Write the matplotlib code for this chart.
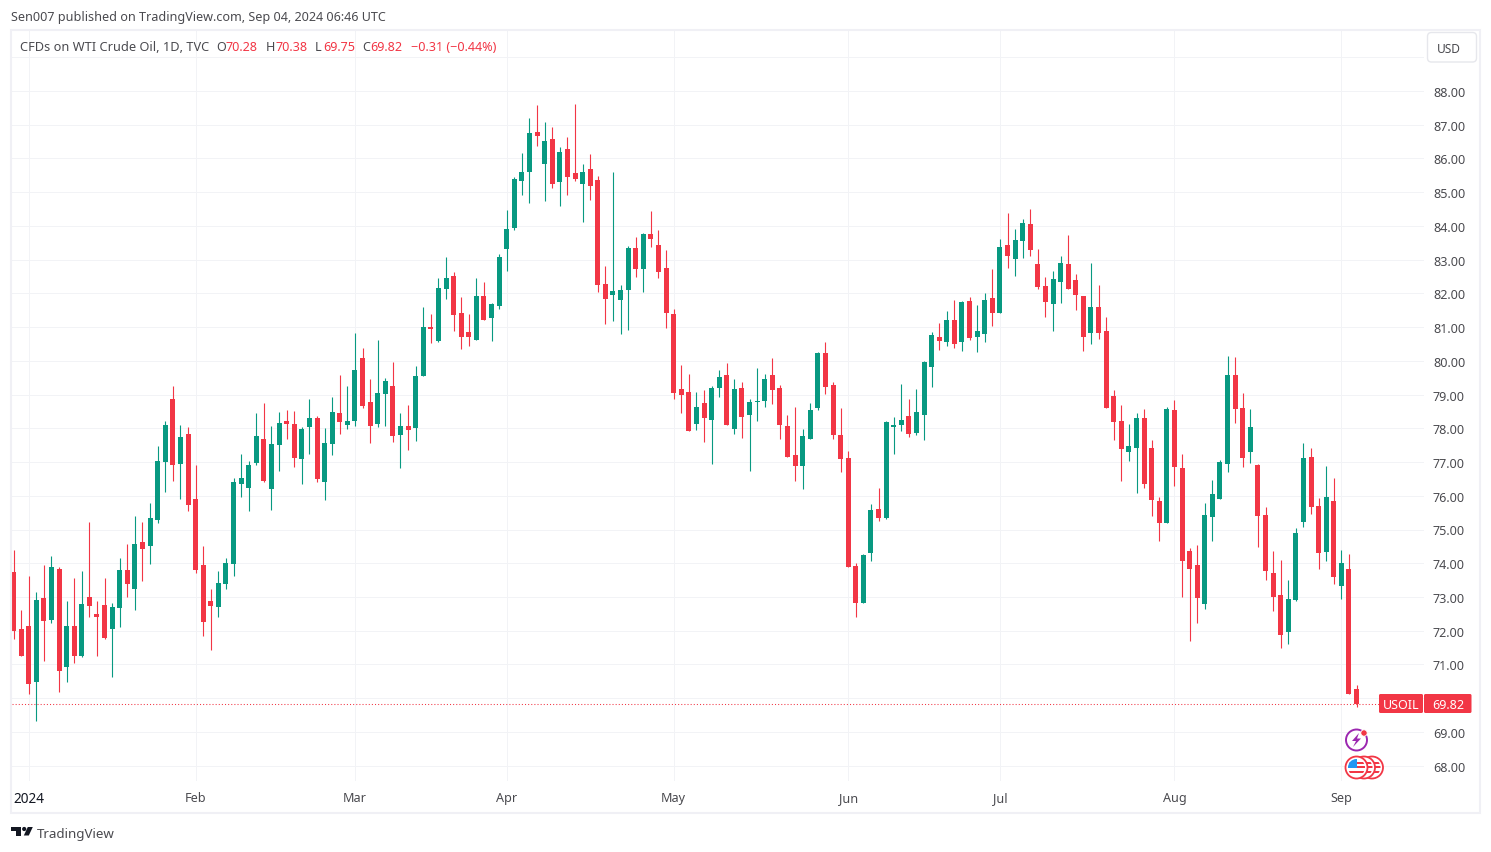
import matplotlib
matplotlib.use("Agg")
import matplotlib.pyplot as plt
from matplotlib.patches import Circle, FancyBboxPatch, Polygon, Rectangle
import numpy as np

plt.rcParams['font.family'] = ['Noto Sans', 'DejaVu Sans']

# daily candles, Jan 2024 to Sep 04 2024
opens = [73.75, 72.06, 72.15, 70.49, 72.98, 72.33, 73.84, 70.91, 72.15, 71.26, 73.01, 72.51, 72.75, 72.06, 72.66, 73.81, 73.25, 74.64, 74.50, 75.27,
         76.99, 78.88, 76.93, 77.82, 75.89, 73.96, 72.87, 72.69, 73.37, 73.99, 76.36, 76.24, 76.96, 77.67, 76.19, 77.49, 78.23, 78.14, 77.08, 78.03,
         78.29, 76.42, 77.52, 78.44, 78.11, 78.23, 80.07, 78.77, 78.14, 79.03, 79.24, 77.79, 78.06, 78.00, 79.54, 80.99, 80.60, 82.12, 82.50, 81.43,
         80.84, 80.63, 81.93, 81.28, 81.61, 83.30, 83.95, 85.34, 85.61, 86.79, 85.84, 86.56, 85.31, 86.29, 85.58, 85.25, 85.67, 85.37, 82.29, 81.96,
         81.81, 82.11, 83.33, 82.73, 83.77, 83.44, 82.76, 81.40, 79.15, 79.09, 78.14, 78.76, 78.26, 79.18, 79.57, 77.99, 79.18, 78.38, 78.79, 78.82,
         79.59, 79.18, 78.08, 77.22, 76.87, 77.67, 78.59, 80.22, 79.27, 77.79, 77.11, 73.93, 72.81, 74.29, 75.62, 75.33, 78.05, 78.11, 78.35, 77.87,
         78.38, 79.83, 80.72, 80.57, 81.22, 80.57, 81.76, 80.72, 80.78, 81.85, 81.43, 83.42, 83.03, 83.54, 84.04, 82.88, 82.23, 81.67, 82.35, 82.88,
         82.38, 81.91, 80.81, 81.58, 80.87, 78.97, 78.23, 77.31, 77.43, 78.29, 77.43, 75.83, 75.18, 78.53, 76.81, 74.35, 73.96, 72.78, 75.36, 75.89,
         76.93, 79.57, 78.59, 77.31, 76.90, 75.42, 73.70, 73.07, 71.95, 72.90, 75.21, 77.16, 75.71, 74.32, 75.83, 73.34, 73.82, 70.28]
highs = [74.38, 72.60, 73.61, 73.16, 73.96, 74.20, 73.90, 72.89, 73.55, 73.78, 75.21, 72.89, 73.55, 72.81, 74.17, 74.58, 75.41, 75.21, 75.80, 77.46,
         78.23, 79.24, 78.11, 78.05, 76.90, 74.50, 73.25, 73.78, 74.17, 76.54, 77.25, 77.04, 78.44, 78.74, 78.06, 78.47, 78.53, 78.50, 78.03, 78.88,
         78.35, 78.00, 78.94, 79.57, 79.24, 80.81, 80.37, 79.45, 80.63, 79.48, 79.95, 78.44, 78.68, 79.86, 81.58, 81.40, 82.44, 83.09, 82.62, 81.88,
         81.40, 82.44, 82.35, 81.72, 83.18, 84.48, 85.46, 86.17, 87.21, 87.59, 87.09, 86.94, 86.35, 86.62, 87.62, 85.82, 86.14, 85.49, 82.82, 85.61,
         82.26, 83.41, 83.68, 83.80, 84.45, 83.89, 83.27, 81.55, 79.89, 79.62, 79.09, 79.12, 79.24, 79.74, 79.92, 79.45, 79.36, 78.88, 79.80, 79.62,
         80.07, 79.27, 78.38, 78.62, 77.99, 78.76, 80.25, 80.57, 79.36, 78.59, 77.34, 74.02, 74.26, 75.77, 76.22, 78.23, 78.32, 79.30, 78.88, 79.15,
         79.98, 80.84, 81.13, 81.49, 81.79, 81.76, 81.88, 81.64, 82.02, 82.71, 83.62, 84.37, 83.92, 84.19, 84.51, 83.30, 82.47, 82.65, 83.12, 83.74,
         82.56, 81.91, 82.91, 82.26, 81.31, 79.12, 78.70, 78.14, 78.44, 78.56, 77.64, 75.95, 78.62, 78.85, 77.25, 74.44, 74.53, 75.80, 76.48, 77.05,
         80.13, 80.10, 79.06, 78.56, 76.93, 75.68, 74.35, 74.11, 73.49, 75.03, 77.55, 77.43, 75.92, 76.87, 76.54, 74.38, 74.26, 70.38]
lows = [71.74, 71.26, 70.11, 69.31, 71.09, 72.24, 70.17, 70.49, 71.03, 71.21, 72.42, 71.26, 71.74, 70.64, 72.12, 73.01, 72.60, 73.46, 73.99, 75.18,
        76.10, 76.45, 75.89, 75.56, 73.72, 71.83, 71.44, 72.42, 73.25, 73.61, 75.95, 75.56, 76.90, 76.42, 75.57, 76.72, 77.67, 76.84, 76.34, 77.25,
        76.40, 75.86, 77.20, 77.82, 77.97, 78.08, 78.59, 77.55, 78.03, 78.06, 77.58, 76.81, 77.37, 77.61, 79.54, 80.52, 80.57, 81.82, 80.87, 80.34,
        80.43, 80.63, 81.22, 80.60, 81.55, 82.67, 83.89, 84.90, 84.69, 86.38, 84.75, 85.13, 84.60, 84.90, 85.34, 84.10, 84.78, 82.05, 81.10, 81.19,
        80.78, 80.92, 82.47, 82.05, 83.38, 82.44, 80.98, 78.88, 78.46, 77.93, 77.96, 77.58, 76.93, 78.94, 78.11, 77.82, 77.70, 76.72, 78.23, 78.62,
        78.71, 77.67, 77.16, 76.45, 76.19, 77.67, 78.53, 79.03, 77.67, 76.69, 73.90, 72.42, 72.81, 74.08, 75.24, 75.30, 77.25, 77.93, 77.73, 77.79,
        77.64, 79.21, 80.33, 80.45, 80.39, 80.28, 80.63, 80.25, 80.57, 81.02, 81.43, 82.76, 82.50, 83.06, 83.12, 82.14, 81.31, 80.87, 81.70, 82.14,
        81.52, 80.28, 80.51, 80.66, 78.59, 77.64, 76.45, 77.02, 76.07, 76.22, 75.39, 74.65, 75.18, 76.28, 73.01, 71.71, 72.24, 72.63, 74.65, 75.89,
        76.69, 78.17, 76.84, 76.96, 74.47, 73.49, 72.57, 71.50, 71.62, 72.87, 75.06, 75.45, 73.84, 74.08, 73.37, 72.93, 70.11, 69.75]
closes = [71.98, 71.26, 70.41, 72.92, 72.30, 73.90, 70.82, 72.15, 71.24, 72.78, 72.72, 72.42, 71.77, 72.69, 73.81, 73.37, 74.58, 74.41, 75.33, 77.04,
          78.11, 76.90, 77.73, 75.74, 73.81, 72.27, 72.72, 73.40, 74.02, 76.42, 76.54, 76.90, 77.76, 76.45, 77.52, 78.17, 78.14, 77.11, 77.97, 78.29,
          76.51, 77.55, 78.47, 78.20, 78.23, 79.74, 78.65, 78.06, 79.06, 79.39, 77.76, 78.08, 77.94, 79.54, 80.99, 80.93, 82.15, 82.44, 81.35, 80.72,
          80.72, 81.93, 81.22, 81.67, 83.09, 83.92, 85.40, 85.61, 86.76, 86.65, 86.50, 85.25, 86.20, 85.46, 85.40, 85.61, 85.19, 82.26, 81.84, 82.08,
          82.11, 83.35, 82.73, 83.77, 83.62, 82.64, 81.43, 79.06, 79.00, 77.93, 78.64, 78.29, 79.18, 79.51, 78.11, 79.15, 78.32, 78.79, 78.82, 79.45,
          79.12, 78.11, 77.16, 76.87, 77.76, 78.53, 80.22, 79.21, 77.79, 77.08, 73.90, 72.81, 74.23, 75.59, 75.33, 78.20, 78.11, 78.26, 77.84, 78.47,
          79.95, 80.75, 80.60, 81.22, 80.51, 81.73, 80.69, 80.87, 81.79, 81.43, 83.36, 83.12, 83.59, 84.07, 83.27, 82.20, 81.73, 82.41, 82.91, 82.14,
          81.94, 80.72, 81.58, 80.81, 78.59, 78.20, 77.40, 77.46, 78.29, 76.36, 75.86, 75.18, 78.56, 76.84, 74.08, 73.84, 72.96, 75.42, 76.04, 76.99,
          79.57, 78.56, 77.13, 78.05, 75.39, 73.76, 73.01, 71.86, 72.93, 74.91, 77.11, 75.68, 74.29, 75.95, 73.58, 74.02, 70.11, 69.82]

month_idx = [2, 24, 45, 65, 87, 110, 130, 153, 175]
month_labels = ['2024', 'Feb', 'Mar', 'Apr', 'May', 'Jun', 'Jul', 'Aug', 'Sep']
price_ticks = list(range(68, 90))
header_symbol = 'CFDs on WTI Crude Oil, 1D, TVC'
published = 'Sen007 published on TradingView.com, Sep 04, 2024 06:46 UTC'

GREEN = '#089981'
RED = '#F23645'
GRID = '#F2F3F6'
FRAME = '#F0F0F5'
TEXT = '#4A4A4F'
FS = 9.05

W, H = 1491, 853
fig = plt.figure(figsize=(W / 100, H / 100), dpi=100, facecolor='white')

# pane in pixels: left 12, right 1424, top 31, bottom 782
px_left, px_right, px_top, px_bottom = 12, 1424, 31, 782
ax = fig.add_axes([px_left / W, 1 - px_bottom / H, (px_right - px_left) / W, (px_bottom - px_top) / H])

step = 7.588      # px per candle
x0 = 13.5         # px of the first candle
unit = 33.74      # px per dollar
y80 = 361.8       # px of the 80.00 line
ax.set_xlim((px_left - x0) / step, (px_right - x0) / step)
ax.set_ylim(80 - (px_bottom - y80) / unit, 80 + (y80 - px_top) / unit)

o = np.array(opens)
c = np.array(closes)
xs = np.arange(len(o))
colors = [GREEN if c[i] >= o[i] else RED for i in xs]

wicks = ax.vlines(xs, lows, highs, colors=colors, linewidth=0.8, zorder=3)
wicks.set_snap(True)
ax.bar(xs, np.maximum(np.abs(c - o), 0.03), bottom=np.minimum(o, c), width=5 / step,
       color=colors, linewidth=0, zorder=4, antialiased=False)

ax.axhline(closes[-1], color=RED, linewidth=0.75, linestyle=(0, (1, 2)), zorder=2)

ax.set_xticks(month_idx)
ax.set_xticklabels(month_labels, fontsize=FS, color=TEXT)
ax.get_xticklabels()[0].set_fontweight('bold')
ax.get_xticklabels()[0].set_fontsize(9.8)
ax.get_xticklabels()[0].set_color('#131722')
ax.set_yticks(price_ticks)
ax.set_yticklabels(['' if p == 89 else f'{p:.2f}' for p in price_ticks], fontsize=FS, color=TEXT)
ax.yaxis.tick_right()
ax.tick_params(axis='both', length=0)
ax.tick_params(axis='y', pad=6.4)
ax.tick_params(axis='x', pad=7.2)
ax.grid(True, color=GRID, linewidth=0.72, zorder=0)
ax.set_axisbelow(True)
for s in ax.spines.values():
    s.set_visible(False)

# everything else is drawn in pixel coordinates on top
top = fig.add_axes([0, 0, 1, 1], facecolor='none')
top.set_xlim(0, W)
top.set_ylim(H, 0)
top.axis('off')

top.add_patch(Rectangle((11, 30.5), 1469, 783, fill=False, edgecolor=FRAME, linewidth=1.5))

top.text(11, 17, published, fontsize=FS, color=TEXT, va='center')
top.text(20, 47, header_symbol, fontsize=9.2, color=TEXT, va='center')
for lab, val, xl, xv in [('O', '70.28', 216, 226), ('H', '70.38', 265.5, 275), ('L', '69.75', 314.5, 323), ('C', '69.82', 362, 370)]:
    top.text(xl, 47, lab, fontsize=FS, color=TEXT, va='center')
    top.text(xv, 47, val, fontsize=FS, color=RED, va='center')
top.text(411, 47, '\u22120.31 (\u22120.44%)', fontsize=FS, color=RED, va='center')

# USD button
top.add_patch(FancyBboxPatch((1427.5, 33.5), 49, 29.5, boxstyle='round,pad=0,rounding_size=4',
                             facecolor='white', edgecolor='#E6E7EC', linewidth=1))
top.text(1448.5, 49, 'USD', fontsize=8.6, color=TEXT, ha='center', va='center')

# last price tag
top.add_patch(FancyBboxPatch((1379, 695), 44, 19, boxstyle='round,pad=0,rounding_size=1.5', facecolor=RED, linewidth=0))
top.add_patch(FancyBboxPatch((1424, 695), 47.5, 19, boxstyle='round,pad=0,rounding_size=1.5', facecolor=RED, linewidth=0))
top.text(1401, 705.3, 'USOIL', fontsize=FS, color='white', ha='center', va='center', fontweight='medium')
top.text(1448.5, 705.3, f'{closes[-1]:.2f}', fontsize=FS, color='white', ha='center', va='center', fontweight='bold')

# event icons
top.add_patch(Circle((1356.5, 741), 10.5, facecolor='white', edgecolor='#9C27B0', linewidth=1.4, zorder=5))
top.add_patch(Polygon([(1359, 734), (1352, 742), (1356, 742), (1353, 748), (1361, 739.5), (1357, 739.5)],
                      facecolor='#9C27B0', linewidth=0, zorder=6))
top.add_patch(Circle((1364, 734), 3.2, facecolor=RED, edgecolor='white', linewidth=0.6, zorder=7))
for i, cx in enumerate([1372, 1364, 1356.5]):
    top.add_patch(Circle((cx, 768.5), 11, facecolor='white', edgecolor=RED, linewidth=1.3, zorder=5 + i))
    flag = Circle((cx, 768.5), 8.5, facecolor='white', linewidth=0, zorder=5 + i)
    top.add_patch(flag)
    for sy in [762.5, 767, 771.5]:
        r = Rectangle((cx - 9, sy), 18, 2.2, facecolor=RED, linewidth=0, zorder=5 + i)
        top.add_patch(r)
        r.set_clip_path(flag)
    if i == 2:
        r = Rectangle((cx - 9, 760), 9.5, 8.5, facecolor='#2196F3', linewidth=0, zorder=5 + i)
        top.add_patch(r)
        r.set_clip_path(flag)

# TradingView logo
logo = '#131722'
top.add_patch(Polygon([(11, 828), (21, 828), (21, 836.5), (16, 836.5), (16, 832), (11, 832)], facecolor=logo, linewidth=0))
top.add_patch(Circle((24.2, 830), 2.1, facecolor=logo, linewidth=0))
top.add_patch(Polygon([(27.8, 828), (32.8, 828), (28.8, 836.5), (23.8, 836.5)], facecolor=logo, linewidth=0))
top.text(37, 835, 'TradingView', fontsize=9.6, color=TEXT, va='center')

fig.savefig('out.png', dpi=100)
